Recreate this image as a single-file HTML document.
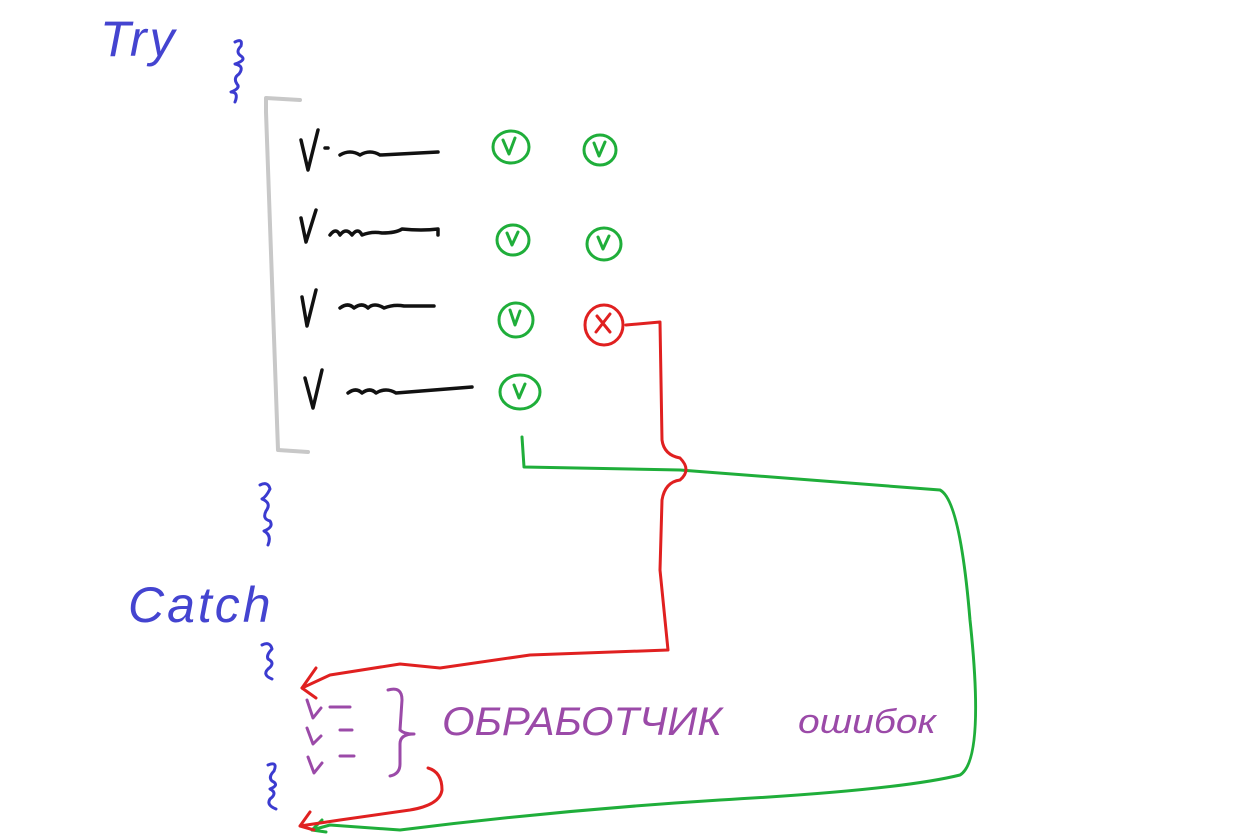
<!DOCTYPE html>
<html><head><meta charset="utf-8"><style>
html,body{margin:0;padding:0;background:#fff;width:1247px;height:840px;overflow:hidden}
svg{display:block}
text{font-family:"Liberation Sans",sans-serif;font-style:italic}
</style></head><body>
<svg width="1247" height="840" viewBox="0 0 1247 840" fill="none" stroke-linecap="round" stroke-linejoin="round">
<text x="100" y="56" font-size="50" fill="#4444d0" stroke="none" style="letter-spacing:3px">Try</text>
<text x="128" y="622" font-size="50" fill="#4444d0" stroke="none" style="letter-spacing:3px">Catch</text>
<g stroke="#3b3bd0" stroke-width="3">
<path d="M235 42 q8 -4 6 4 q-6 6 0 10 q6 4 -6 8 q10 2 4 10 q-6 4 -2 10 q4 4 -6 8 q8 0 4 10"/>
<path d="M260 485 q8 -4 10 4 q-4 8 -8 10 q10 4 4 12 q-4 8 4 10 q4 6 -6 10 q8 4 4 14"/>
<path d="M262 645 q8 -4 10 4 q-6 6 -4 10 q8 4 0 10 q-6 6 4 10"/>
<path d="M268 765 q10 -4 6 6 q-6 6 -2 10 q8 4 -2 8 q8 4 0 10 q-4 6 6 10"/>
</g>
<path d="M300 100 L266 98 L266 112 L278 450 L308 452" stroke="#c8c8c8" stroke-width="4"/>
<g stroke="#111" stroke-width="3.5">
<path d="M301 140 L308 170 L318 130"/><path d="M325 148 l3 0"/><path d="M340 155 q10 -6 20 0 q10 -6 20 0 l58 -3"/>
<path d="M301 218 L306 242 L316 210"/><path d="M330 235 q6 -8 10 0 q6 -8 12 0 q6 -8 10 0 q10 -4 20 -2 q14 0 20 -4 q20 2 36 0 l0 6"/>
<path d="M302 297 L307 326 L316 290"/><path d="M340 308 q8 -6 14 0 q8 -6 14 0 q6 -6 16 0 q10 -4 20 -2 l30 0"/>
<path d="M305 378 L313 408 L322 370"/><path d="M348 393 q8 -6 14 0 q8 -6 14 0 q10 -6 20 0 l76 -6"/>
</g>
<g stroke="#1fae3a" stroke-width="3">
<ellipse cx="511" cy="147" rx="18" ry="16"/><path d="M503 140 l6 14 l6 -16"/>
<ellipse cx="600" cy="150" rx="16" ry="15"/><path d="M594 143 l5 13 l6 -14"/>
<ellipse cx="513" cy="240" rx="16" ry="15"/><path d="M507 233 l5 12 l6 -13"/>
<ellipse cx="604" cy="244" rx="17" ry="16"/><path d="M598 237 l5 12 l6 -13"/>
<ellipse cx="516" cy="320" rx="17" ry="17"/><path d="M510 310 l5 15 l5 -14"/>
<ellipse cx="520" cy="392" rx="20" ry="17"/><path d="M514 385 l5 13 l6 -14"/>
<path d="M522 437 L524 467 L680 470 L940 490 Q960 500 970 620 Q985 760 960 775 Q900 790 720 800 Q560 810 400 830 L330 825 L312 830"/>
<path d="M312 830 l10 -10 M312 830 l14 2"/>
</g>
<g stroke="#e02020" stroke-width="3">
<ellipse cx="604" cy="325" rx="19" ry="20"/><path d="M597 316 l13 16 M610 314 l-14 18"/>
<path d="M626 325 L660 322 L662 440 Q664 455 680 458 Q692 470 680 480 Q665 482 662 500 L660 570 L668 650 L530 655 L440 668 L400 664 L330 675 L302 688"/>
<path d="M302 688 l14 -20 M302 688 l14 10"/>
<path d="M428 768 Q442 772 442 790 Q440 805 410 810 L340 820 L300 826 M300 826 l10 -14 M300 826 l14 4"/>
</g>
<g stroke="#9b4aa8" stroke-width="3">
<path d="M307 700 l6 18 l8 -10 M330 707 l20 0"/>
<path d="M307 728 l6 16 l8 -8 M340 730 l12 0"/>
<path d="M308 757 l6 16 l8 -10 M340 756 l14 0"/>
<path d="M388 690 q14 -4 14 10 l-2 30 q4 4 14 4 q-14 0 -14 10 l0 20 q0 10 -10 12"/>
</g>
<text x="442" y="735" font-size="40" fill="#9b4aa8" stroke="none" textLength="280" lengthAdjust="spacingAndGlyphs">ОБРАБОТЧИК</text>
<text x="798" y="733" font-size="34" fill="#9b4aa8" stroke="none" textLength="138" lengthAdjust="spacingAndGlyphs">ошибок</text>
</svg>
</body></html>
